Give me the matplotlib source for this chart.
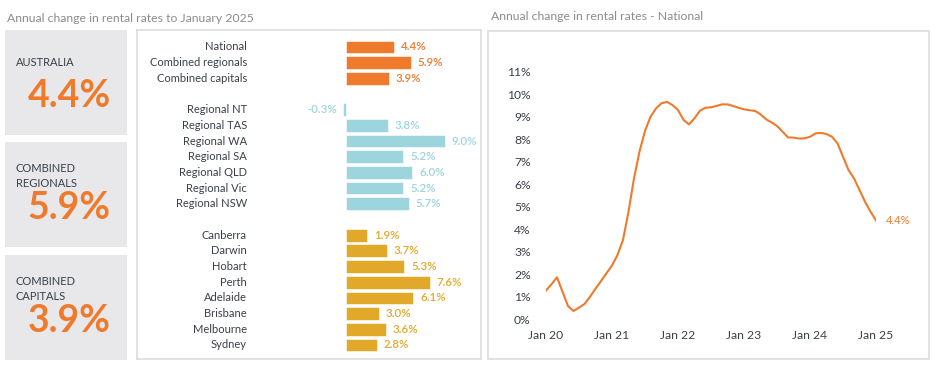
import matplotlib
matplotlib.use("Agg")
import matplotlib.pyplot as plt
from matplotlib.patches import Rectangle

# ---------------- data ----------------
title_left = "Annual change in rental rates to January 2025"
title_right = "Annual change in rental rates - National"

summary_labels = ["AUSTRALIA", "COMBINED\nREGIONALS", "COMBINED\nCAPITALS"]
summary_values = [4.4, 5.9, 3.9]

combined_labels = ["National", "Combined regionals", "Combined capitals"]
combined_values = [4.4, 5.9, 3.9]

regional_labels = ["Regional NT", "Regional TAS", "Regional WA", "Regional SA",
                   "Regional QLD", "Regional Vic", "Regional NSW"]
regional_values = [-0.3, 3.8, 9.0, 5.2, 6.0, 5.2, 5.7]

capital_labels = ["Canberra", "Darwin", "Hobart", "Perth", "Adelaide",
                  "Brisbane", "Melbourne", "Sydney"]
capital_values = [1.9, 3.7, 5.3, 7.6, 6.1, 3.0, 3.6, 2.8]

# monthly national annual change, Jan 2020 .. Jan 2025
national_series = [
    1.28, 1.56, 1.87, 1.23, 0.59, 0.37, 0.52, 0.68, 1.00, 1.36, 1.70, 2.05,
    2.39, 2.86, 3.53, 4.79, 6.27, 7.46, 8.38, 9.01, 9.38, 9.61, 9.67, 9.53,
    9.31, 8.87, 8.67, 8.94, 9.28, 9.41, 9.43, 9.49, 9.56, 9.56, 9.49, 9.41,
    9.34, 9.30, 9.27, 9.12, 8.90, 8.76, 8.60, 8.35, 8.09, 8.08, 8.04, 8.05,
    8.12, 8.27, 8.29, 8.24, 8.12, 7.83, 7.23, 6.64, 6.27, 5.75, 5.23, 4.79,
    4.4,
]
year_tick_labels = ["Jan 20", "Jan 21", "Jan 22", "Jan 23", "Jan 24", "Jan 25"]
y_tick_values = list(range(0, 12))

# ---------------- style ----------------
ORANGE = "#F07A2C"
TEAL = "#9DD5DE"
GOLD = "#E1A82A"
GREY_BOX = "#E8E8EA"
BORDER = "#DDDDDD"
TITLE_C = "#8C8C8C"
TEXT_C = "#3A3F4A"

plt.rcParams['font.family'] = ['Lato', 'DejaVu Sans']

W, H = 940, 374
fig = plt.figure(figsize=(W / 100, H / 100), dpi=100)


def axes_px(l, t, r, b):
    return fig.add_axes([l / W, 1 - b / H, (r - l) / W, (b - t) / H])


def fx(px):
    return px / W


def fy(py):
    return 1 - py / H


# titles
fig.text(fx(7), fy(18), title_left, color=TITLE_C, fontsize=8.8, va='center', ha='left')
fig.text(fx(491), fy(17), title_right, color=TITLE_C, fontsize=8.8, va='center', ha='left')

# ---------------- summary boxes ----------------
box_tops = [30, 142, 255]
box_h = 105
for i, (lab, val) in enumerate(zip(summary_labels, summary_values)):
    top = box_tops[i]
    fig.add_artist(Rectangle((fx(5), fy(top + box_h)), (127 - 5) / W, box_h / H,
                             transform=fig.transFigure, facecolor=GREY_BOX,
                             edgecolor='none', zorder=-5))
    label_y = top + 33 if "\n" not in lab else top + 34
    fig.text(fx(16), fy(label_y), lab, color=TEXT_C, fontsize=8, va='center',
             ha='left', linespacing=1.35)
    fig.text(fx(69), fy(top + 66), f"{val:.1f}%", color=ORANGE, fontsize=27,
             fontweight='bold', va='center', ha='center')

# ---------------- bar chart ----------------
axb = axes_px(137, 30, 481, 359)
row_px = 15.68
first_row_px = 47
zero_px = 346
px_per_unit = 11.0
axb.set_xlim((137 - zero_px) / px_per_unit, (481 - zero_px) / px_per_unit)
axb.set_ylim((359 - first_row_px) / row_px, (30 - first_row_px) / row_px)

groups = [(combined_labels, combined_values, ORANGE),
          (regional_labels, regional_values, TEAL),
          (capital_labels, capital_values, GOLD)]
label_x = (247 - zero_px) / px_per_unit
pos = 0
for labels, values, col in groups:
    ys = list(range(pos, pos + len(labels)))
    axb.barh(ys, values, height=0.81, color=col, edgecolor='white', linewidth=0.4)
    for y, lab, v in zip(ys, labels, values):
        axb.text(label_x, y, lab, ha='right', va='center', fontsize=8, color=TEXT_C)
        if v >= 0:
            axb.annotate(f"{v:.1f}%", xy=(v, y), xytext=(7, 0), textcoords='offset pixels',
                         ha='left', va='center', fontsize=8.3, color=col,
                         fontweight='semibold')
        else:
            axb.annotate(f"{v:.1f}%", xy=(v, y), xytext=(-6, 0), textcoords='offset pixels',
                         ha='right', va='center', fontsize=8.3, color=col,
                         fontweight='semibold')
    pos += len(labels) + 1

axb.set_xticks([])
axb.set_yticks([])
for s in axb.spines.values():
    s.set_color(BORDER)
    s.set_linewidth(1.2)

# ---------------- line chart ----------------
fig.add_artist(Rectangle((fx(488), fy(359)), (929 - 488) / W, (359 - 31) / H,
                         transform=fig.transFigure, facecolor='white',
                         edgecolor=BORDER, linewidth=1.2, zorder=-5))
axl = axes_px(546, 72, 876, 319.3)
months = list(range(len(national_series)))
axl.plot(months, national_series, color=ORANGE, linewidth=1.5, solid_joinstyle='round')
axl.set_xlim(0, len(national_series) - 1)
axl.set_ylim(0, 11)
axl.set_xticks(list(range(0, len(national_series), 12)))
axl.set_xticklabels(year_tick_labels)
axl.set_yticks(y_tick_values)
axl.set_yticklabels([f"{v}%" for v in y_tick_values])
axl.tick_params(axis='y', length=0, pad=11, labelsize=8.7, labelcolor=TEXT_C)
axl.tick_params(axis='x', length=0, pad=8, labelsize=8.7, labelcolor=TEXT_C)
for s in axl.spines.values():
    s.set_visible(False)
axl.patch.set_alpha(0)
last = national_series[-1]
axl.annotate(f"{last:.1f}%", xy=(months[-1], last), xytext=(10, 0),
             textcoords='offset pixels', ha='left', va='center', fontsize=8,
             color=ORANGE, annotation_clip=False)

fig.savefig("out.png", dpi=100)
